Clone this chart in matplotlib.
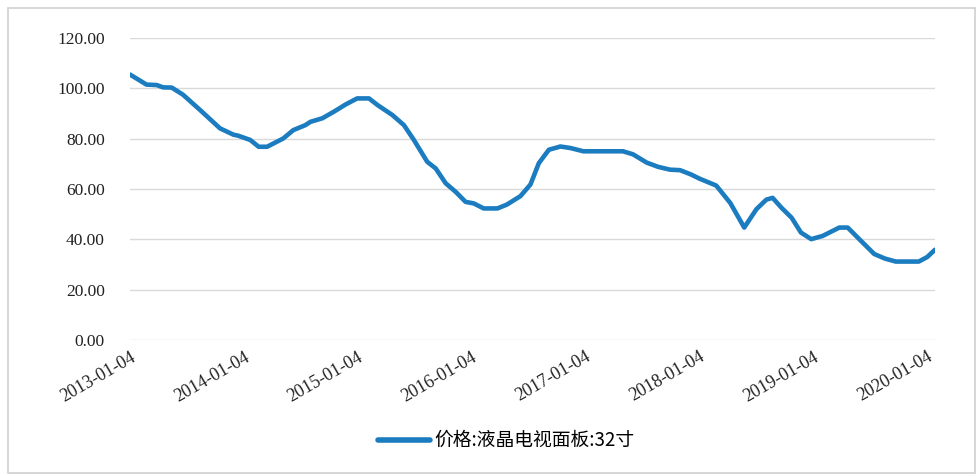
import matplotlib
matplotlib.use("Agg")
import matplotlib.pyplot as plt
import pandas as pd
from matplotlib.patches import Rectangle

plt.rcParams['font.family'] = ['Liberation Serif', 'Noto Sans CJK SC', 'DejaVu Sans']

# 读图估计的价格点
dates = [
    "2013-01-04", "2013-02-26", "2013-03-31", "2013-04-20", "2013-05-18", "2013-06-23",
    "2013-08-17", "2013-10-20", "2013-12-02", "2013-12-17", "2014-01-25", "2014-02-21",
    "2014-03-20", "2014-05-11", "2014-06-12", "2014-07-21", "2014-08-06", "2014-09-13",
    "2014-10-20", "2014-11-27", "2015-01-03", "2015-02-10", "2015-03-09", "2015-04-26",
    "2015-06-02", "2015-07-04", "2015-08-16", "2015-09-12", "2015-10-14", "2015-11-15",
    "2015-12-17", "2016-01-12", "2016-02-13", "2016-03-28", "2016-04-27", "2016-06-10",
    "2016-07-12", "2016-08-08", "2016-09-09", "2016-10-16", "2016-11-17", "2016-12-29",
    "2017-05-05", "2017-06-06", "2017-07-20", "2017-08-26", "2017-10-03", "2017-11-04",
    "2017-12-09", "2018-01-06", "2018-02-28", "2018-04-14", "2018-05-29", "2018-07-07",
    "2018-08-08", "2018-08-28", "2018-09-26", "2018-10-28", "2018-11-27", "2018-12-30",
    "2019-02-05", "2019-03-30", "2019-04-26", "2019-06-02", "2019-07-20", "2019-08-23",
    "2019-09-27", "2019-12-10", "2020-01-06", "2020-01-31",
]
prices = [
    105.5, 101.5, 101.3, 100.4, 100.3, 97.5,
    91.4, 84.1, 81.6, 81.2, 79.5, 76.8,
    76.8, 80.1, 83.4, 85.4, 86.7, 88.1,
    90.7, 93.6, 96.0, 96.0, 93.4, 89.4,
    85.4, 79.5, 70.8, 68.2, 62.3, 58.9,
    54.9, 54.3, 52.3, 52.3, 53.8, 57.2,
    61.8, 70.3, 75.6, 76.9, 76.3, 75.0,
    75.0, 73.8, 70.5, 68.8, 67.7, 67.5,
    65.8, 64.1, 61.4, 54.5, 44.7, 52.0,
    55.8, 56.5, 52.5, 48.6, 42.7, 40.1,
    41.4, 44.7, 44.7, 40.1, 34.2, 32.4,
    31.2, 31.2, 33.0, 35.9,
]
tick_dates = ["2013-01-04", "2014-01-04", "2015-01-04", "2016-01-04",
              "2017-01-04", "2018-01-04", "2019-01-04", "2020-01-04"]
y_ticks = [0, 20, 40, 60, 80, 100, 120]
label = "价格:液晶电视面板:32寸"

x = pd.to_datetime(dates)
fig = plt.figure(figsize=(9.77, 4.75), dpi=100)
ax = fig.add_axes([0.133, 0.284, 0.824, 0.636])

ax.plot(x, prices, color='#1b7cc0', linewidth=3.3, label=label, solid_capstyle='round')

ax.set_ylim(0, 120)
ax.set_xlim(x[0], x[-1])
ax.set_yticks(y_ticks)
ax.set_yticklabels([f"{v:.2f}" for v in y_ticks], fontsize=12.5, color='#222222')
xt = pd.to_datetime(tick_dates)
ax.set_xticks(xt)
ax.set_xticklabels(tick_dates, rotation=30, ha='right', rotation_mode='anchor',
                   fontsize=13, color='#222222')
ax.tick_params(axis='both', length=0)
ax.tick_params(axis='y', pad=18)
ax.tick_params(axis='x', pad=6)
ax.grid(axis='y', color='#d9d9d9', linewidth=1.0)
ax.set_axisbelow(True)
for s in ax.spines.values():
    s.set_visible(False)

leg = fig.legend(loc='center', bbox_to_anchor=(0.518, 0.072), frameon=False,
                 handlelength=2.8, handletextpad=0.2,
                 prop={'family': ['Noto Sans CJK SC', 'DejaVu Sans'], 'size': 13.5})
for line in leg.get_lines():
    line.set_linewidth(4)

fig.patches.append(Rectangle((0.008, 0.005), 0.99, 0.978, transform=fig.transFigure,
                             fill=False, edgecolor='#d0d0d0', linewidth=1.2))

fig.savefig("out.png", dpi=100)
